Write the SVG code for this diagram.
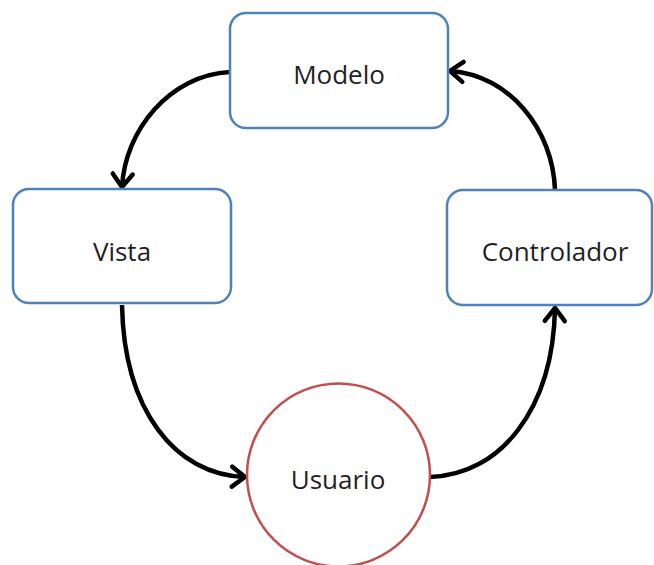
<svg xmlns="http://www.w3.org/2000/svg" width="654" height="565" viewBox="0 0 654 565">
  <style>
    .box { fill: #ffffff; stroke: #4F81BD; stroke-width: 2.5; }
    .circ { fill: #ffffff; stroke: #C0504D; stroke-width: 2.5; }
    .lbl { font-family: "Open Sans", "Liberation Sans", sans-serif; font-size: 26px; fill: #1f1f1f; text-anchor: middle; }
    .conn { fill: none; stroke: #000000; stroke-width: 4.5; marker-end: url(#chev); }
  </style>
  <defs>
    <marker id="chev" markerUnits="userSpaceOnUse" viewBox="-16 -12 20 24" refX="0" refY="0" markerWidth="20" markerHeight="24" orient="auto" overflow="visible">
      <path d="M-13,-10 L0,0 L-13,10" fill="none" stroke="#000000" stroke-width="4.5" stroke-linecap="round" stroke-linejoin="miter"/>
    </marker>
  </defs>
  <rect width="654" height="565" fill="#ffffff"/>
  <g id="connectors">
    <path class="conn" d="M230,72 C170,75 125,130 122,187"/>
    <path class="conn" d="M122,305 C124,410 175,475 245,477"/>
    <path class="conn" d="M430,477 C500,475 553,410 555,308"/>
    <path class="conn" d="M555,190 C553,130 510,75 450,71"/>
  </g>
  <g id="modelo">
    <rect class="box" x="230" y="13" width="218" height="115" rx="16"/>
    <text class="lbl" x="339" y="84">Modelo</text>
  </g>
  <g id="vista">
    <rect class="box" x="13" y="189" width="218" height="114" rx="16"/>
    <text class="lbl" x="122" y="261">Vista</text>
  </g>
  <g id="controlador">
    <rect class="box" x="447" y="190" width="205" height="115" rx="16"/>
    <text class="lbl" x="555" y="261">Controlador</text>
  </g>
  <g id="usuario">
    <circle class="circ" cx="338.5" cy="475" r="91.5"/>
    <text class="lbl" x="338" y="489">Usuario</text>
  </g>
</svg>
